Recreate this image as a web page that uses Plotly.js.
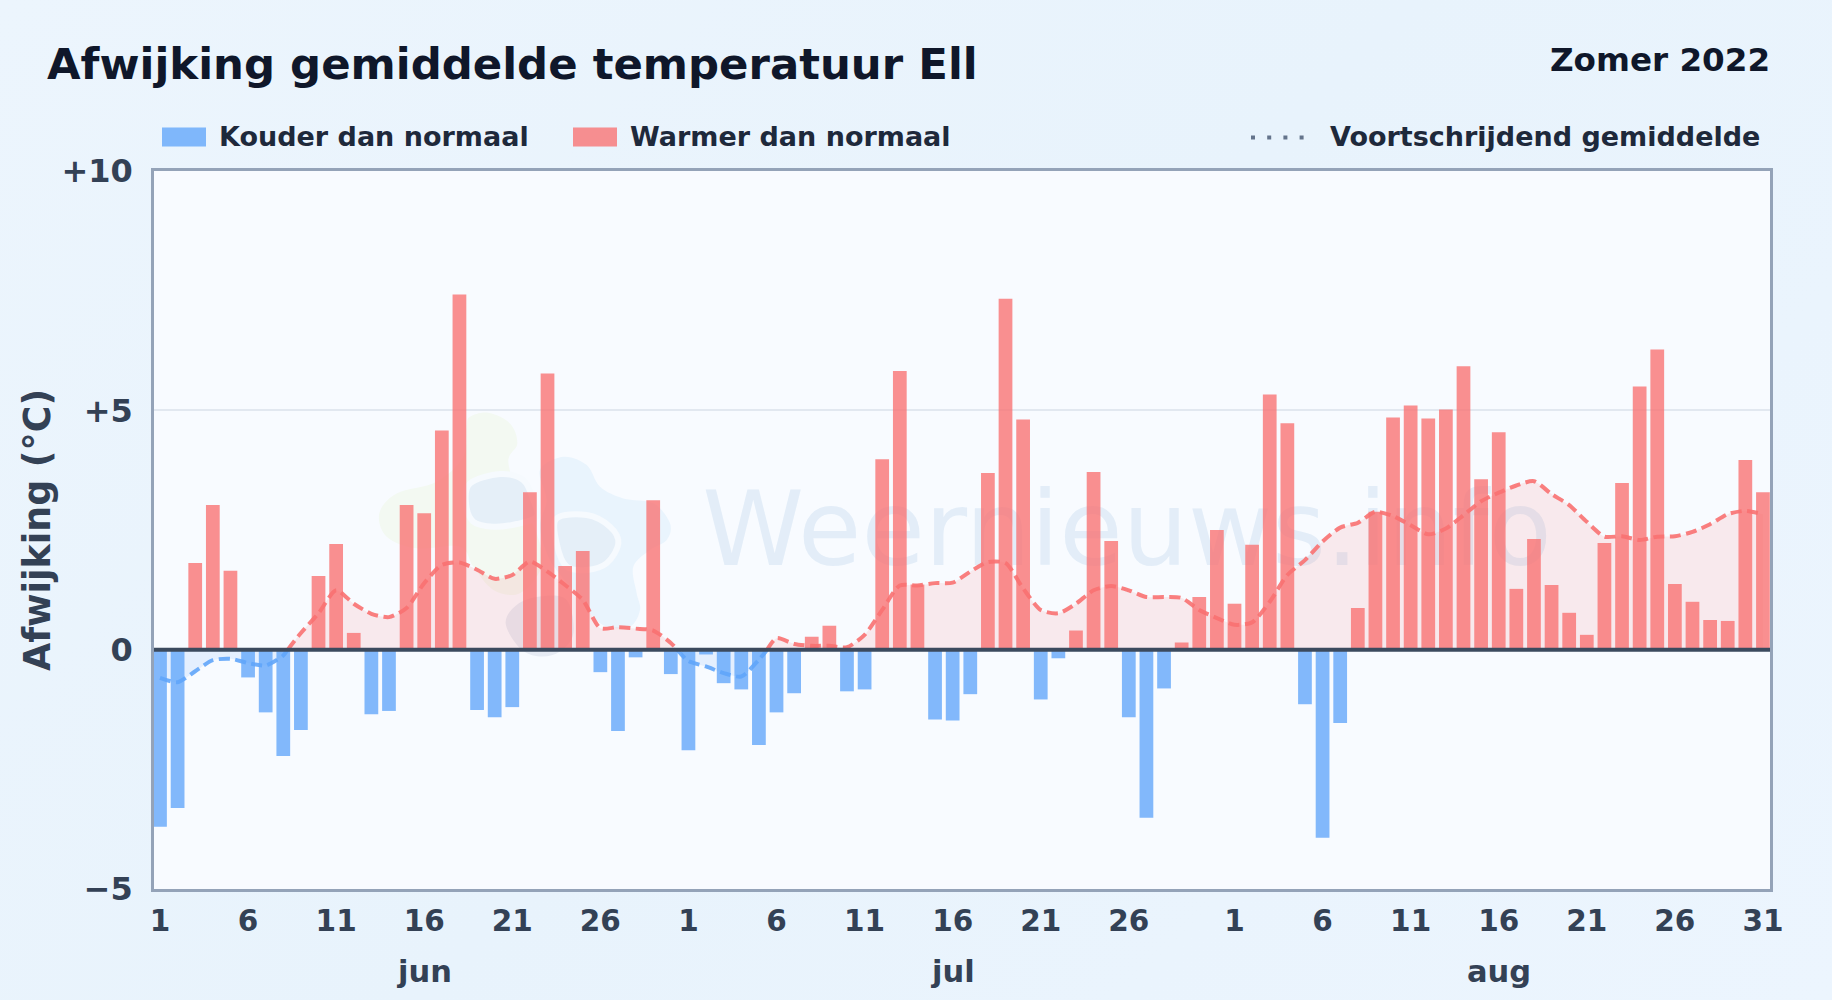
<!DOCTYPE html>
<html><head><meta charset="utf-8">
<script src="https://cdn.plot.ly/plotly-3.0.1.min.js"></script>
<style>html,body{margin:0;padding:0;width:1832px;height:1000px;overflow:hidden;background:linear-gradient(135deg,#ecf5fd 0%,#e8f3fc 50%,#ecf5fe 100%)}</style>
</head><body><div id="chart" style="width:1832px;height:1000px"></div>
<script>
const deviations = [
 -3.70,-3.31,1.81,3.02,1.65,-0.58,-1.31,-2.22,-1.68,1.54,2.21,0.35,-1.35,-1.28,3.02,2.85,4.58,7.42,-1.26,-1.41,-1.20,3.29,5.77,1.75,2.06,-0.47,-1.70,-0.16,3.12,-0.51,
 -2.10,-0.10,-0.70,-0.83,-1.99,-1.31,-0.91,0.27,0.50,-0.87,-0.83,3.98,5.82,1.36,-1.46,-1.48,-0.93,3.69,7.33,4.81,-1.04,-0.18,0.40,3.71,2.27,-1.41,-3.51,-0.81,0.15,1.10,2.50,
 0.96,2.19,5.33,4.73,-1.14,-3.93,-1.53,0.87,2.88,4.85,5.10,4.83,5.02,5.92,3.56,4.54,1.27,2.31,1.35,0.77,0.31,2.23,3.48,5.50,6.27,1.37,1.00,0.62,0.60,3.96,3.29];
const rolling = [
 -0.59,-0.68,-0.45,-0.22,-0.19,-0.28,-0.33,-0.12,0.35,0.76,1.24,0.96,0.75,0.68,0.87,1.39,1.77,1.82,1.67,1.48,1.56,1.84,1.63,1.35,1.04,0.45,0.47,0.44,0.40,0.14,
 -0.24,-0.35,-0.49,-0.56,-0.21,0.24,0.12,0.08,0.08,0.05,0.31,0.83,1.34,1.34,1.39,1.40,1.63,1.83,1.81,1.28,0.83,0.76,0.96,1.24,1.33,1.24,1.10,1.10,1.08,0.83,0.66,
 0.52,0.57,1.00,1.56,1.87,2.26,2.55,2.65,2.88,2.79,2.60,2.41,2.53,2.81,3.10,3.28,3.43,3.52,3.25,3.02,2.67,2.36,2.37,2.29,2.36,2.37,2.46,2.62,2.83,2.90,2.83];
const dayLabels = ['1','6','11','16','21','26','1','6','11','16','21','26','1','6','11','16','21','26','31'];
const dayTicks = [0,5,10,15,20,25,30,35,40,45,50,55,61,66,71,76,81,86,91];
const months = ['jun','jul','aug'];
const monthTicks = [15,45,76];
const yTicks = [-5,0,5,10];
const yLabels = ['\u22125','0','+5','+10'];

const W=1832,H=1000,L=154,R=1770,T=170.5,B=889.5;
const xRange=[-0.34,91.4], yRange=[-5,10];
const px=(x)=>(x-L)/(R-L), py=(y)=>(B-y)/(B-T);
const idx = deviations.map((_,i)=>i);

function signedRun(sign){
  const xs=[],ys=[];
  rolling.forEach((v,i)=>{
    if(i>0 && rolling[i-1]*v<0){
      const c=i-1+rolling[i-1]/(rolling[i-1]-v);
      if(v*sign>0){xs.push(c);ys.push(0);} else {xs.push(c);ys.push(0);xs.push(c);ys.push(null);}
    }
    if(v*sign>0){xs.push(i);ys.push(v);}
  });
  return {x:xs,y:ys};
}
const pos=signedRun(1), neg=signedRun(-1);
const font='"DejaVu Sans",sans-serif';

function blob(pts,fill,halo){
  const p=pts.map(a=>[px(360+a[0]/3),py(400+a[1]/3)]);
  const n=p.length; let d=`M${p[0][0]},${p[0][1]}`;
  for(let i=0;i<n;i++){
    const a=p[(i-1+n)%n],b=p[i],c=p[(i+1)%n],e=p[(i+2)%n];
    d+=` C${b[0]+(c[0]-a[0])/6},${b[1]+(c[1]-a[1])/6} ${c[0]-(e[0]-b[0])/6},${c[1]-(e[1]-b[1])/6} ${c[0]},${c[1]}`;
  }
  return {type:'path',xref:'paper',yref:'paper',path:d+' Z',fillcolor:fill,line:halo?{width:6,color:'#f6fafe'}:{width:0},layer:'below'};
}
const logo=[
 blob([[330,50],[385,38],[450,70],[472,130],[445,185],[480,300],[530,400],[545,500],[480,580],[400,570],[340,500],[300,440],[170,445],[80,410],[58,340],[110,280],[230,245],[310,170],[320,80]],'#f3f9f2'),
 blob([[540,210],[610,170],[680,195],[720,260],[790,295],[880,310],[930,370],[920,420],[870,450],[820,500],[830,580],[840,630],[810,680],[740,680],[690,640],[630,560],[570,480],[540,380],[560,300]],'#e9f4fd'),
 blob([[330,250],[420,222],[490,240],[520,300],[530,350],[470,372],[400,380],[340,365],[318,310]],'#e5eff8',true),
 blob([[590,355],[680,345],[750,380],[775,430],[740,490],[680,510],[620,500],[590,430]],'#e5eff8',true),
 blob([[437,670],[470,615],[540,590],[620,600],[640,700],[600,755],[540,770],[480,745]],'#e6ebf4')
];

const dashLine='11px,5.5px';
const traces=[
 {type:'scatter',mode:'text',x:[54.9],y:[2.3],text:['Weernieuws.info'],textposition:'middle center',textfont:{family:font,size:103,color:'rgba(110,160,210,0.15)',weight:400},showlegend:false,hoverinfo:'skip',cliponaxis:false},
 {type:'scatter',mode:'lines',name:'Warmer (gem.)',x:pos.x,y:pos.y,connectgaps:false,fill:'tozeroy',fillcolor:'rgba(248,113,113,0.13)',line:{color:'rgba(248,113,113,0.9)',width:4,dash:dashLine,shape:'spline',smoothing:0.7},showlegend:false,hoverinfo:'skip'},
 {type:'scatter',mode:'lines',name:'Kouder (gem.)',x:neg.x,y:neg.y,connectgaps:false,fill:'tozeroy',fillcolor:'rgba(96,165,250,0.13)',line:{color:'rgba(96,165,250,0.9)',width:4,dash:dashLine,shape:'spline',smoothing:0.7},showlegend:false,hoverinfo:'skip'},
 {type:'bar',name:'Kouder dan normaal',x:idx,y:deviations.map(v=>v<0?v:null),xaxis:'x2',yaxis:'y2',width:0.78,marker:{color:'rgba(96,165,250,0.78)',line:{width:0}},showlegend:false},
 {type:'bar',name:'Warmer dan normaal',x:idx,y:deviations.map(v=>v>=0?v:null),xaxis:'x2',yaxis:'y2',width:0.78,marker:{color:'rgba(248,113,113,0.78)',line:{width:0}},showlegend:false}
];
const ann=(text,x,y,size,color,anchor)=>({xref:'paper',yref:'paper',x:px(x),y:py(y),text:text,showarrow:false,xanchor:anchor,yanchor:'middle',font:{family:font,size:size,color:color,weight:700}});
const layout={
 width:W,height:H,paper_bgcolor:'rgba(0,0,0,0)',plot_bgcolor:'#f8fbff',
 margin:{l:L,r:W-R,t:T,b:H-B,pad:0},barmode:'overlay',showlegend:false,font:{family:font},
 xaxis:{range:xRange,tickmode:'array',tickvals:dayTicks,ticktext:dayLabels,ticks:'',showgrid:false,zeroline:false,showline:true,mirror:true,linecolor:'#94a3b8',linewidth:2.5,ticklabelstandoff:4,tickfont:{family:font,size:29.5,color:'#334155',weight:700}},
 yaxis:{range:yRange,tickmode:'array',tickvals:yTicks,ticktext:yLabels,ticks:'',showgrid:true,gridcolor:'#e2e8f0',gridwidth:2,zeroline:false,showline:true,mirror:true,linecolor:'#94a3b8',linewidth:2.5,ticklabelstandoff:12,tickfont:{family:font,size:32,color:'#334155',weight:700},
   title:{text:'Afwijking (°C)',standoff:0,font:{family:font,size:36.4,color:'#334155',weight:700}}},
 xaxis2:{overlaying:'x',range:xRange,visible:false},
 yaxis2:{overlaying:'y',range:yRange,visible:false},
 shapes:logo.concat([
  {type:'line',xref:'paper',yref:'y',x0:0,x1:1,y0:0,y1:0,line:{color:'#3b4a5e',width:4},layer:'above'},
  {type:'rect',xref:'paper',yref:'paper',x0:px(162),x1:px(206),y0:py(127),y1:py(146),fillcolor:'rgba(96,165,250,0.78)',line:{width:0}},
  {type:'rect',xref:'paper',yref:'paper',x0:px(573),x1:px(617),y0:py(127),y1:py(146),fillcolor:'rgba(248,113,113,0.78)',line:{width:0}},
  {type:'line',xref:'paper',yref:'paper',x0:px(1251),x1:px(1310),y0:py(137),y1:py(137),line:{color:'#64748b',width:4,dash:'4px,12.2px'}}
 ]),
 annotations:[
  ann('Afwijking gemiddelde temperatuur Ell',45,63,43.4,'#0f172a','left'),
  ann('Zomer 2022',1772,59,32.6,'#0f172a','right'),
  ann('Kouder dan normaal',217,136,27,'#1e293b','left'),
  ann('Warmer dan normaal',628,136,27,'#1e293b','left'),
  ann('Voortschrijdend gemiddelde',1328,136,27,'#1e293b','left')
 ].concat(months.map((m,i)=>({xref:'x',yref:'paper',x:monthTicks[i],y:py(972),text:m,showarrow:false,xanchor:'center',yanchor:'middle',font:{family:font,size:30.5,color:'#334155',weight:700}})))
};
Plotly.newPlot('chart',traces,layout,{displayModeBar:false,responsive:false});
</script></body></html>
